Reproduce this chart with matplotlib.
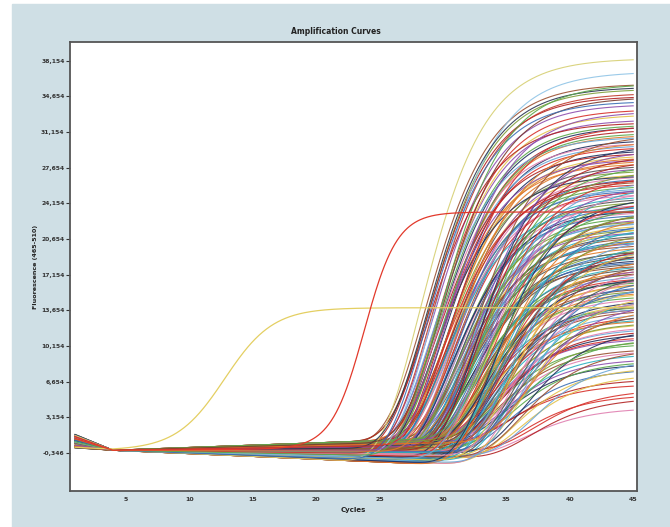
import numpy as np
import matplotlib.pyplot as plt
from matplotlib.patches import Rectangle

# cycle midpoints (m) and plateau heights of the bulk amplification curves
ct = [
    29.2, 31.0, 32.4, 30.1, 33.8, 31.6, 29.8, 34.6, 30.7, 32.9,
    28.9, 31.3, 33.1, 30.4, 35.2, 32.0, 29.5, 33.6, 31.8, 30.9,
    32.6, 29.9, 34.1, 31.2, 30.2, 33.3, 28.7, 32.2, 35.8, 31.5,
    30.6, 33.0, 29.4, 34.4, 31.9, 30.0, 32.7, 36.2, 31.1, 33.5,
    29.7, 32.3, 30.8, 34.9, 31.4, 33.2, 29.1, 32.1, 30.3, 33.9,
    31.7, 30.5, 32.8, 29.6, 35.5, 31.0, 32.5, 30.9, 34.2, 29.3,
    31.6, 33.4, 30.2, 32.0, 28.6, 33.7, 31.2, 30.6, 36.8, 32.4,
    29.9, 31.8, 33.0, 30.4, 34.7, 31.3, 32.9, 29.5, 33.6, 30.8,
    32.2, 29.0, 34.3, 31.5, 30.1, 33.1, 35.0, 31.9, 30.7, 32.6,
    29.8, 33.5, 31.1, 30.3, 34.8, 32.0, 29.4, 31.7, 33.9, 30.5,
    32.3, 36.0, 31.0, 30.0, 33.2, 29.2, 31.4, 34.5, 30.9, 32.7,
    28.8, 31.3, 33.8, 30.2, 32.1, 35.3, 29.6, 31.6, 33.3, 30.6,
    32.5, 29.3, 34.0, 31.2, 30.4, 33.6, 37.2, 31.8, 29.7, 32.8,
    34.6, 35.4, 33.9, 36.4, 34.2, 35.8, 33.4, 36.9, 34.9, 35.1,
    33.7, 34.4, 35.6, 33.0, 36.6, 34.1, 35.2, 33.5, 36.1, 34.8,
    33.2, 34.9, 32.7, 35.7, 33.8, 34.3, 32.9, 36.3, 33.5, 35.0,
    34.0, 32.6, 35.4, 33.3, 34.7, 36.0, 32.8, 34.5, 33.1, 35.9,
    33.6, 35.2, 32.5, 34.2, 36.5, 33.9, 32.4, 35.5, 34.1, 33.0,
    28.1, 29.2, 28.7, 29.0, 29.8, 28.6, 30.2, 30.6, 29.6, 31.0,
]
plateau = [
    33500, 24000, 17500, 29000, 11000, 21500, 31000, 8500, 26500, 15000,
    35500, 22500, 14000, 28000, 6500, 19500, 32000, 12500, 20500, 25000,
    16500, 30500, 10000, 23500, 27500, 13500, 34800, 18500, 5500, 22000,
    26000, 15500, 32500, 9500, 20000, 29500, 16000, 4200, 24500, 12000,
    31500, 18000, 25500, 8000, 23000, 14500, 34000, 19000, 28500, 11500,
    21000, 27000, 15800, 30000, 7000, 24800, 17000, 26800, 10500, 33000,
    22800, 13000, 28800, 18800, 36000, 12200, 21800, 25800, 5200, 16800,
    29800, 20800, 14200, 27200, 9000, 23800, 17800, 31800, 13800, 24200,
    19800, 30800, 11800, 21200, 26200, 16200, 8800, 22200, 27800, 18200,
    28200, 14800, 20200, 25200, 10800, 17200, 29200, 19200, 13200, 23200,
    15200, 7500, 21500, 24000, 12800, 27000, 18200, 9800, 22600, 14000,
    32200, 19600, 11200, 25600, 16600, 8200, 28600, 20600, 15600, 23600,
    17600, 30200, 12600, 22400, 26600, 14400, 6000, 18600, 31200, 16400,
    18000, 15000, 21000, 12000, 23500, 17500, 24800, 9000, 20000, 13500,
    19400, 16000, 11000, 22000, 14500, 26000, 19000, 17000, 10000, 14800,
    27500, 21000, 29000, 17500, 24500, 22500, 28000, 15500, 26000, 20500,
    23000, 30000, 18500, 25500, 21500, 16500, 28500, 19500, 27000, 17000,
    24000, 20000, 29500, 22000, 14000, 25000, 31000, 18000, 23500, 26500,
    38500, 37200, 35700, 35100, 34700, 34300, 33300, 31900, 36000, 30300,
]
# baseline drift per cycle and start-up offset, reused across wells
drift = [-55, -30, 10, -15, 35, -45, 0, 20, -25, -5,
         45, -38, 15, -10, 28, -50, 5, -20, 38, -35]
bump = [1300, 700, 1000, 300, 1200, 850, 500, 1400, 750, 1100, 400, 950]

# the two early wells
early_ct = [12.8, 23.8]
early_plateau = [14000, 23400]
early_k = [1.9, 1.3]
early_colors = ['#e4cf62', '#e2392b']

palette = ['#d7302a', '#3b6fb6', '#5aa84a', '#e3c24a', '#8e4fae', '#2bb0c0',
           '#e07b2a', '#22305e', '#9a4f30', '#e07fb0', '#7f9f3a', '#6aa7d8',
           '#b22222', '#555555']
top_colors = ['#d6cf72', '#8fc4e6', '#2a3550', '#c0392b', '#7a3b2e',
              '#3b6fb6', '#8e4fae', '#d7302a', '#5aa84a', '#e07b2a']

ytick_vals = [-346 + 3500 * i for i in range(12)]
ytick_labels = ['-0,346', '3,154', '6,654', '10,154', '13,654', '17,154',
                '20,654', '24,154', '27,654', '31,154', '34,654', '38,154']
xtick_vals = [5, 10, 15, 20, 25, 30, 35, 40, 45]

fig = plt.figure(figsize=(6.7, 5.27), dpi=100, facecolor='white')
fig.patches.append(Rectangle((12 / 670, 0), 1 - 12 / 670, 1 - 4 / 527,
                             transform=fig.transFigure, color='#cfdfe5', zorder=-1))
ax = fig.add_axes([70 / 670, 1 - 491 / 527, 567 / 670, 449 / 527])
ax.set_facecolor('white')

c = np.linspace(1, 45, 441)
n_top = len(top_colors)
n = len(ct)
for i in range(n):
    g = np.exp(-np.exp(-(c - ct[i]) / 3.0))
    base = -100 + bump[i % len(bump)] * np.clip(1 - (c - 1) / 3, 0, None) \
        + drift[i % len(drift)] * (c - 4) * (1 - g)
    y = base + plateau[i] * g
    if i >= n - n_top:
        col = top_colors[i - (n - n_top)]
    else:
        col = palette[i % len(palette)]
    ax.plot(c, y, color=col, lw=0.8, alpha=0.9)

for j in range(len(early_ct)):
    g = 1 / (1 + np.exp(-(c - early_ct[j]) / early_k[j]))
    base = -100 + bump[j + 3] * np.clip(1 - (c - 1) / 3, 0, None) + 8 * (c - 4) * (1 - g)
    ax.plot(c, base + early_plateau[j] * g, color=early_colors[j], lw=0.9)

ax.set_xlim(0.6, 45.3)
ax.set_ylim(-4100, 40000)
ax.set_yticks(ytick_vals)
ax.set_yticklabels(ytick_labels)
ax.set_xticks(xtick_vals)
ax.tick_params(axis='y', length=3, width=0.8, pad=1, labelsize=4.3, colors='#333333')
ax.tick_params(axis='x', length=0, pad=4, labelsize=4.5, colors='#333333')
for lab in ax.get_xticklabels() + ax.get_yticklabels():
    lab.set_fontweight('bold')
for sp in ax.spines.values():
    sp.set_color('#555555')
    sp.set_linewidth(1.3)

ax.set_xlabel('Cycles', fontsize=5, fontweight='bold', color='#222222')
ax.xaxis.set_label_coords(0.5, -0.036)
ax.set_ylabel('Fluorescence (465-510)', fontsize=4.6, fontweight='bold', color='#222222')
ax.yaxis.set_label_coords(-0.056, 0.5)
fig.text(336 / 670, 1 - 32 / 527, 'Amplification Curves', ha='center', va='center',
         fontsize=5.5, fontweight='bold', color='#222222')

fig.savefig('out.png', dpi=100, facecolor=fig.get_facecolor())
